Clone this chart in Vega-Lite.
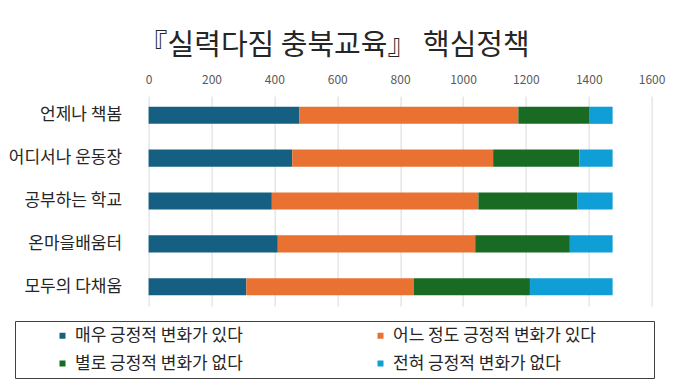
{
  "$schema": "https://vega.github.io/schema/vega-lite/v6.json",
  "width": 503,
  "height": 210,
  "autosize": {"type": "none"},
  "padding": {"left": 148.6, "top": 96, "right": 28.4, "bottom": 81},
  "background": "white",
  "config": {"font": "Noto Sans CJK KR", "view": {"stroke": null}},
  "title": {
    "text": "『실력다짐 충북교육』 핵심정책",
    "fontSize": 29,
    "font": "Noto Sans CJK KR",
    "fontWeight": "normal",
    "color": "#262626",
    "anchor": "middle",
    "frame": "group",
    "dx": -66,
    "offset": 12
  },
  "data": {
    "values": [
      {"policy": "언제나 책봄", "response": "매우 긍정적 변화가 있다", "ord": 1, "count": 480},
      {"policy": "언제나 책봄", "response": "어느 정도 긍정적 변화가 있다", "ord": 2, "count": 696},
      {"policy": "언제나 책봄", "response": "별로 긍정적 변화가 없다", "ord": 3, "count": 227},
      {"policy": "언제나 책봄", "response": "전혀 긍정적 변화가 없다", "ord": 4, "count": 73},
      {"policy": "어디서나 운동장", "response": "매우 긍정적 변화가 있다", "ord": 1, "count": 457},
      {"policy": "어디서나 운동장", "response": "어느 정도 긍정적 변화가 있다", "ord": 2, "count": 639},
      {"policy": "어디서나 운동장", "response": "별로 긍정적 변화가 없다", "ord": 3, "count": 274},
      {"policy": "어디서나 운동장", "response": "전혀 긍정적 변화가 없다", "ord": 4, "count": 106},
      {"policy": "공부하는 학교", "response": "매우 긍정적 변화가 있다", "ord": 1, "count": 392},
      {"policy": "공부하는 학교", "response": "어느 정도 긍정적 변화가 있다", "ord": 2, "count": 657},
      {"policy": "공부하는 학교", "response": "별로 긍정적 변화가 없다", "ord": 3, "count": 314},
      {"policy": "공부하는 학교", "response": "전혀 긍정적 변화가 없다", "ord": 4, "count": 113},
      {"policy": "온마을배움터", "response": "매우 긍정적 변화가 있다", "ord": 1, "count": 411},
      {"policy": "온마을배움터", "response": "어느 정도 긍정적 변화가 있다", "ord": 2, "count": 628},
      {"policy": "온마을배움터", "response": "별로 긍정적 변화가 없다", "ord": 3, "count": 301},
      {"policy": "온마을배움터", "response": "전혀 긍정적 변화가 없다", "ord": 4, "count": 136},
      {"policy": "모두의 다채움", "response": "매우 긍정적 변화가 있다", "ord": 1, "count": 311},
      {"policy": "모두의 다채움", "response": "어느 정도 긍정적 변화가 있다", "ord": 2, "count": 533},
      {"policy": "모두의 다채움", "response": "별로 긍정적 변화가 없다", "ord": 3, "count": 369},
      {"policy": "모두의 다채움", "response": "전혀 긍정적 변화가 없다", "ord": 4, "count": 263}
    ]
  },
  "mark": {"type": "bar"},
  "encoding": {
    "y": {
      "field": "policy",
      "type": "nominal",
      "sort": ["언제나 책봄", "어디서나 운동장", "공부하는 학교", "온마을배움터", "모두의 다채움"],
      "scale": {"paddingInner": 0.6, "paddingOuter": 0.25},
      "axis": {
        "title": null,
        "labelFontSize": 17,
        "labelColor": "#262626",
        "ticks": false,
        "domain": false,
        "labelPadding": 27
      }
    },
    "x": {
      "field": "count",
      "type": "quantitative",
      "stack": "zero",
      "scale": {"domain": [0, 1600]},
      "axis": {
        "orient": "top",
        "values": [0, 200, 400, 600, 800, 1000, 1200, 1400, 1600],
        "format": "d",
        "title": null,
        "grid": true,
        "gridColor": "#d9d9d9",
        "ticks": false,
        "domain": false,
        "labelFontSize": 12,
        "labelColor": "#595959",
        "labelPadding": 10,
        "labelFlush": false
      }
    },
    "color": {
      "field": "response",
      "type": "nominal",
      "scale": {
        "domain": ["매우 긍정적 변화가 있다", "어느 정도 긍정적 변화가 있다", "별로 긍정적 변화가 없다", "전혀 긍정적 변화가 없다"],
        "range": ["#156082", "#E97132", "#196B24", "#0F9ED5"]
      },
      "legend": {
        "orient": "none",
        "legendX": -133.6,
        "legendY": 225,
        "direction": "horizontal",
        "columns": 2,
        "title": " ",
        "titleOrient": "right",
        "titlePadding": 52,
        "titleFontSize": 12,
        "padding": 6,
        "strokeColor": "#404040",
        "symbolType": "square",
        "symbolSize": 36,
        "symbolStrokeWidth": 0,
        "symbolOffset": 33,
        "labelFontSize": 17,
        "labelColor": "#262626",
        "labelOffset": 4,
        "labelLimit": 400,
        "rowPadding": 10,
        "columnPadding": 96
      }
    },
    "order": {"field": "ord"}
  }
}
